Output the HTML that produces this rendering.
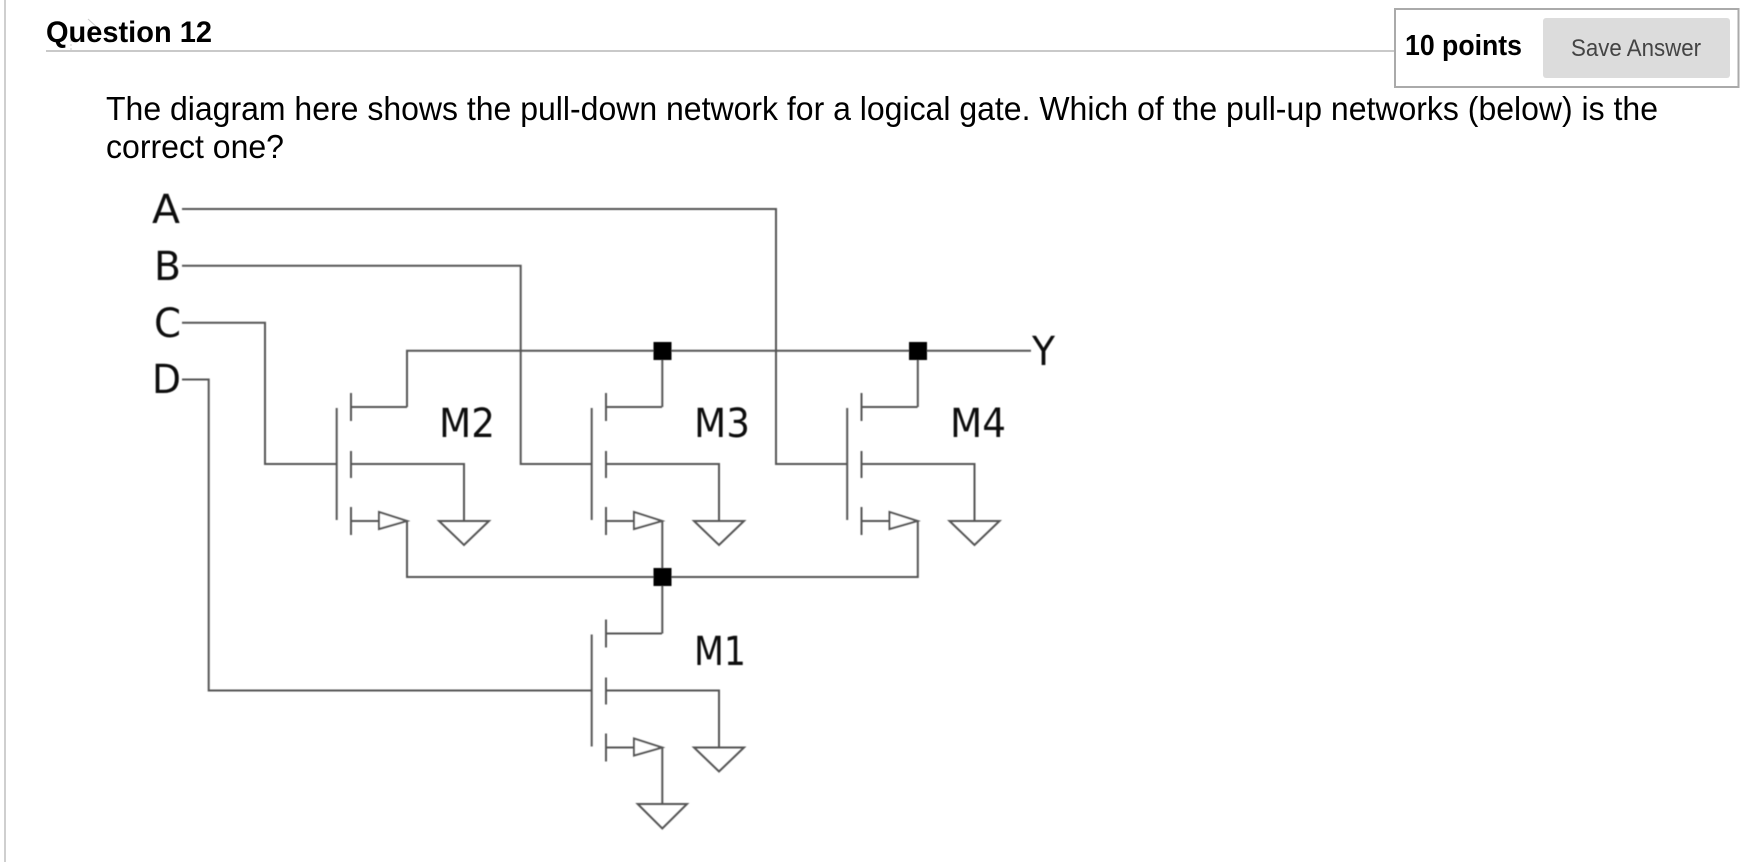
<!DOCTYPE html>
<html lang="en">
<head>
<meta charset="utf-8">
<title>Question 12</title>
<style>
html,body{margin:0;padding:0;background:#fff;width:1754px;height:862px;overflow:hidden}
svg{display:block}
.sans{font-family:"Liberation Sans",sans-serif}
.dj{font-family:"DejaVu Sans",sans-serif;fill:#111}
.w{fill:none;stroke:#555;stroke-width:2;stroke-linejoin:miter}
</style>
</head>
<body>
<svg width="1754" height="862" viewBox="0 0 1754 862" xmlns="http://www.w3.org/2000/svg">
  <defs>
    <filter id="soft" x="-2%" y="-2%" width="104%" height="104%"><feGaussianBlur stdDeviation="0.5"/></filter>
    <filter id="softtext" x="-2%" y="-10%" width="104%" height="120%"><feGaussianBlur stdDeviation="0.25"/></filter>
    <g id="fet" class="w">
      <path d="M336.7 408V520"/>
      <path d="M351 393V421M351 451V478M351 507V535"/>
      <path d="M351 407H407"/>
      <path d="M351 464H464V521"/>
      <path d="M351 521H379"/>
      <path d="M379 512V529L407 521Z" fill="#fff"/>
      <path d="M439 521H489L464 545Z"/>
    </g>
  </defs>

  <rect x="4" y="0" width="2" height="862" fill="#cfcfcf"/>

  <path d="M88 19L100 30" stroke="#ccc" stroke-width="1" fill="none"/>
  <path d="M71 36V50" stroke="#ccc" stroke-width="1" stroke-dasharray="2 2" fill="none"/>

  <text class="sans" x="46" y="42" font-size="29.5" font-weight="700" fill="#000" textLength="166" lengthAdjust="spacingAndGlyphs">Question 12</text>
  <rect x="46" y="50" width="1349" height="2" fill="#c9c9c9"/>

  <rect x="1395" y="9" width="343.5" height="78" fill="#fff" stroke="#aaa" stroke-width="2"/>
  <text class="sans" x="1405" y="55" font-size="29" font-weight="700" fill="#000" textLength="117" lengthAdjust="spacingAndGlyphs">10 points</text>
  <rect x="1543" y="18" width="187" height="60" rx="3" fill="#dcdcdc"/>
  <text class="sans" x="1571" y="56" font-size="24.5" fill="#444" textLength="130" lengthAdjust="spacingAndGlyphs">Save Answer</text>

  <g filter="url(#softtext)">
    <text class="sans" x="106" y="120" font-size="33" fill="#000" textLength="1552" lengthAdjust="spacingAndGlyphs">The diagram here shows the pull-down network for a logical gate. Which of the pull-up networks (below) is the</text>
    <text class="sans" x="106" y="158" font-size="33" fill="#000" textLength="178" lengthAdjust="spacingAndGlyphs">correct one?</text>
  </g>

  <g filter="url(#soft)">
    <use href="#fet"/>
    <use href="#fet" transform="translate(255 0)"/>
    <use href="#fet" transform="translate(510.5 0)"/>
    <use href="#fet" transform="translate(255 226.5)"/>

    <g class="w">
      <path d="M182 209H776V464H847"/>
      <path d="M182 265.7H520.7V464H591.7"/>
      <path d="M182 322.7H265V464H336.7"/>
      <path d="M182 379.5H208.7V690.5H591.7"/>
      <path d="M407 407V350.7H1031"/>
      <path d="M662.3 407V350.7"/>
      <path d="M917.8 407V350.7"/>
      <path d="M407 521V577H917.8V521"/>
      <path d="M662.3 521V633.5"/>
      <path d="M662.3 747V804"/>
      <path d="M637.7 804H687L662.3 828.5Z"/>
    </g>

    <rect x="653.5" y="342" width="18" height="18" fill="#000"/>
    <rect x="909" y="342" width="18" height="18" fill="#000"/>
    <rect x="653.5" y="568" width="18" height="18" fill="#000"/>

    <text class="dj" x="152" y="223" font-size="40" textLength="28" lengthAdjust="spacingAndGlyphs">A</text>
    <text class="dj" x="154" y="280" font-size="40" textLength="27" lengthAdjust="spacingAndGlyphs">B</text>
    <text class="dj" x="154" y="337" font-size="40" textLength="27" lengthAdjust="spacingAndGlyphs">C</text>
    <text class="dj" x="152" y="393" font-size="40" textLength="29" lengthAdjust="spacingAndGlyphs">D</text>
    <text class="dj" x="1032" y="365" font-size="40" textLength="23" lengthAdjust="spacingAndGlyphs">Y</text>
    <text class="dj" x="439" y="437" font-size="40" textLength="56" lengthAdjust="spacingAndGlyphs">M2</text>
    <text class="dj" x="694" y="437" font-size="40" textLength="56" lengthAdjust="spacingAndGlyphs">M3</text>
    <text class="dj" x="950" y="437" font-size="40" textLength="56" lengthAdjust="spacingAndGlyphs">M4</text>
    <text class="dj" x="694" y="665" font-size="40" textLength="52" lengthAdjust="spacingAndGlyphs">M1</text>
  </g>
</svg>
</body>
</html>
